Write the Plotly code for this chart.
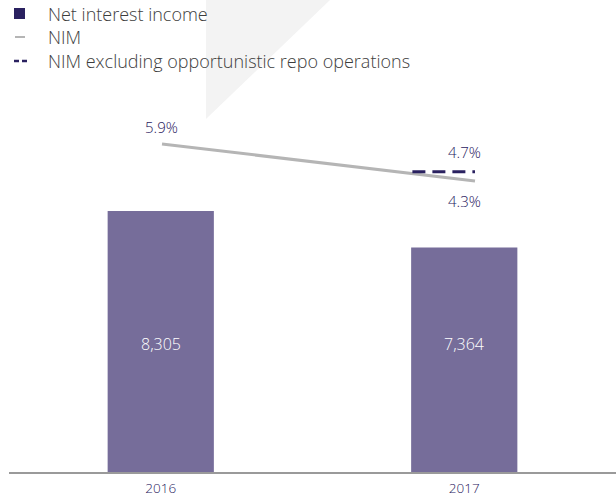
import plotly.graph_objects as go

# ---- data ----
years = ["2016", "2017"]
years_num = [2016, 2017]
net_interest_income = [8305, 7364]
nim = [5.9, 4.3]
nim_excl_repo = [4.7]          # 2017 only
legend_labels = ["Net interest income", "NIM", "NIM excluding opportunistic repo operations"]

# ---- styles ----
BAR = "#766d9a"
NAVY = "#2a2160"
GREY_LINE = "#b5b5b5"
TXT = "#3d3d3d"
FONT = "Open Sans"

W, H = 616, 502
ML, MR, MT, MB = 9, 0, 100, 30
PW, PH = W - ML - MR, H - MT - MB
Y_MIN, Y_MAX = 1600, 11156

def px_x(p):  # pixel -> paper x
    return (p - ML) / PW

def px_y(p):  # pixel -> paper y
    return (H - MB - p) / PH

LABEL_LEVEL = px_y(344)   # vertical level (paper) for bar value labels

fig = go.Figure()

fig.add_trace(go.Bar(
    x=years, y=[v - Y_MIN for v in net_interest_income], base=Y_MIN,
    marker=dict(color=BAR, line=dict(width=0)),
    width=0.35,
    showlegend=False, hoverinfo="skip",
))

fig.add_trace(go.Scatter(
    x=years_num, y=nim, xaxis="x2", yaxis="y2", mode="lines",
    line=dict(color=GREY_LINE, width=3), showlegend=False, hoverinfo="skip",
))

seg = 0.2
fig.add_trace(go.Scatter(
    x=[years_num[-1] - seg, years_num[-1]], y=[nim_excl_repo[0], nim_excl_repo[0]],
    xaxis="x2", yaxis="y2", mode="lines",
    line=dict(color=NAVY, width=3, dash="13px,7px"), showlegend=False, hoverinfo="skip",
))

ann = []
for i, v in enumerate(net_interest_income):
    ann.append(dict(x=i, y=LABEL_LEVEL, xref="x", yref="paper", text=f"{v:,}", showarrow=False,
                    font=dict(color="white", size=16, family=FONT, weight=300)))

lab_font = dict(color=NAVY, size=15, family=FONT, weight=300)
ann.append(dict(x=years_num[0], y=nim[0], xref="x2", yref="y2", text=f"{nim[0]}%",
                showarrow=False, yshift=17, font=lab_font))
ann.append(dict(x=years_num[1], y=nim_excl_repo[0], xref="x2", yref="y2", text=f"{nim_excl_repo[0]}%",
                showarrow=False, yshift=20, xshift=-10, font=lab_font))
ann.append(dict(x=years_num[1], y=nim[1], xref="x2", yref="y2", text=f"{nim[1]}%",
                showarrow=False, yshift=-20, xshift=-10, font=lab_font))

# legend (custom)
rows = [14, 37, 61]
for lab, r in zip(legend_labels, rows):
    ann.append(dict(x=px_x(46), y=px_y(r), xref="paper", yref="paper", text=lab,
                    showarrow=False, xanchor="left", yanchor="middle",
                    font=dict(color=TXT, size=18, family=FONT, weight=300)))

shapes = []
# watermark triangle
shapes.append(dict(type="path", xref="paper", yref="paper", layer="below",
                   path=f"M {px_x(206)} {px_y(0)} L {px_x(206)} {px_y(119)} L {px_x(330)} {px_y(0)} Z",
                   fillcolor="#f3f3f3", line=dict(width=0)))
shapes.append(dict(type="rect", xref="paper", yref="paper",
                   x0=px_x(14), x1=px_x(25), y0=px_y(19), y1=px_y(8),
                   fillcolor=NAVY, line=dict(width=0)))
shapes.append(dict(type="line", xref="paper", yref="paper",
                   x0=px_x(15), x1=px_x(25), y0=px_y(37), y1=px_y(37),
                   line=dict(color=GREY_LINE, width=2)))
for a, b in [(14, 19), (22, 27)]:
    shapes.append(dict(type="line", xref="paper", yref="paper",
                       x0=px_x(a), x1=px_x(b), y0=px_y(61), y1=px_y(61),
                       line=dict(color=NAVY, width=2.5)))

fig.update_layout(
    width=W, height=H,
    margin=dict(l=ML, r=MR, t=MT, b=MB, pad=0),
    paper_bgcolor="white", plot_bgcolor="white",
    showlegend=False,
    xaxis=dict(type="category", range=[-0.5, 1.5], showgrid=False, zeroline=False,
               showline=True, linecolor="#9a9a9a", linewidth=2, ticks="",
               tickfont=dict(color=NAVY, size=13.5, family=FONT, weight=300), ticklabelstandoff=3),
    yaxis=dict(range=[Y_MIN, Y_MAX], visible=False, showgrid=False, zeroline=False),
    xaxis2=dict(overlaying="x", range=[2016 - 0.4888, 2017 + 0.4505], visible=False),
    yaxis2=dict(overlaying="y", range=[-8.3, 7.805], visible=False),
    annotations=ann, shapes=shapes,
)

fig.write_html("out.html", config={"displayModeBar": False},
               post_script="document.body.style.margin='0';")
